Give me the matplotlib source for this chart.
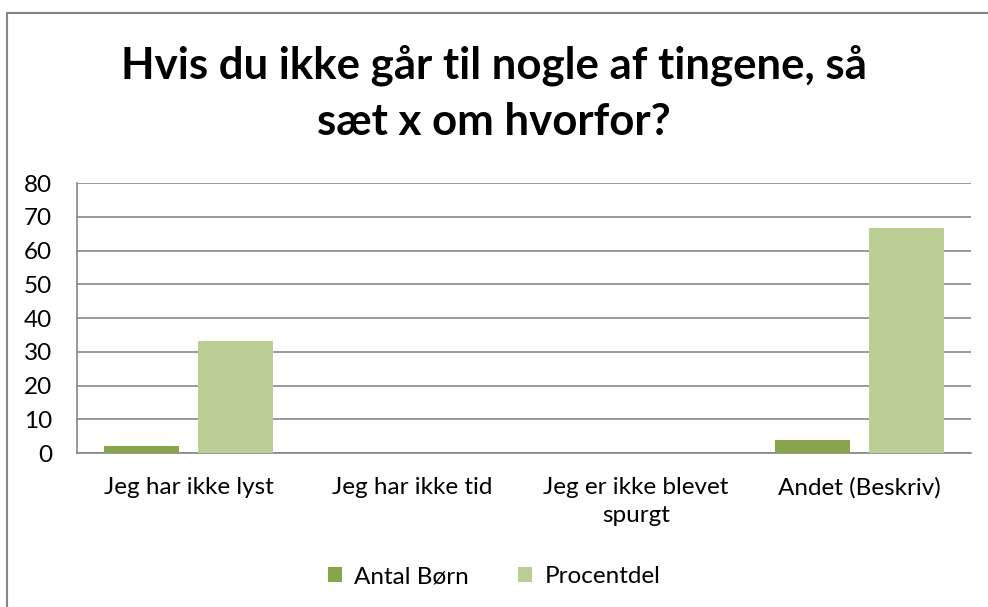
import matplotlib
matplotlib.use("Agg")
import matplotlib.pyplot as plt
import numpy as np
from matplotlib.patches import Rectangle

plt.rcParams['font.family'] = ['Lato', 'DejaVu Sans']

# data
categories = ['Jeg har ikke lyst', 'Jeg har ikke tid', 'Jeg er ikke blevet\nspurgt', 'Andet (Beskriv)']
antal_born = [2, 0, 0, 4]
procentdel = [33.3, 0, 0, 66.7]
yticks = [0, 10, 20, 30, 40, 50, 60, 70, 80]

title_lines = ['Hvis du ikke går til nogle af tingene, så', 'sæt x om hvorfor?']
dark_green = '#88A44C'
light_green = '#BBCE96'
grid_grey = '#878787'

fig = plt.figure(figsize=(9.88, 6.07), dpi=100)
ax = fig.add_axes([0.078, 0.2537, 0.905, 0.4448])

x = np.arange(len(categories))
width = 0.335
gap = 0.085
ax.bar(x - (width + gap) / 2, antal_born, width, color=dark_green, label='Antal Børn', zorder=3)
ax.bar(x + (width + gap) / 2, procentdel, width, color=light_green, label='Procentdel', zorder=3)

ax.set_xlim(-0.5, len(categories) - 0.5)
ax.set_ylim(0, 80)
ax.set_yticks(yticks)
ax.set_xticks(x)
ax.set_xticklabels(categories, fontsize=17.5, linespacing=1.45)
ax.tick_params(axis='y', labelsize=17.5, length=0, pad=18)
ax.tick_params(axis='x', length=0, pad=17)
ax.yaxis.grid(True, color=grid_grey, linewidth=1.2, zorder=0)
ax.set_axisbelow(True)

for side in ['top', 'right']:
    ax.spines[side].set_visible(False)
for side in ['left', 'bottom']:
    ax.spines[side].set_color(grid_grey)
    ax.spines[side].set_linewidth(1.2)

# title, two lines placed on the reference baselines
for line, base_px in zip(title_lines, [78, 135]):
    fig.text(0.5, 1 - base_px / 607, line, ha='center', va='baseline',
             fontsize=31.5, fontweight='bold')

fig.legend(loc='center', bbox_to_anchor=(0.5, 0.05), ncol=2, frameon=False,
           fontsize=17.5, handlelength=0.6, handleheight=0.6, handletextpad=0.5,
           columnspacing=2.0)

# outer chart border (only left and top visible in the reference)
fig.patches.append(Rectangle((7 / 988, -0.1), 1.2, 1 - 13 / 607 + 0.1,
                             transform=fig.transFigure, fill=False,
                             edgecolor='#868686', linewidth=1.5))

fig.savefig('out.png', dpi=100)
